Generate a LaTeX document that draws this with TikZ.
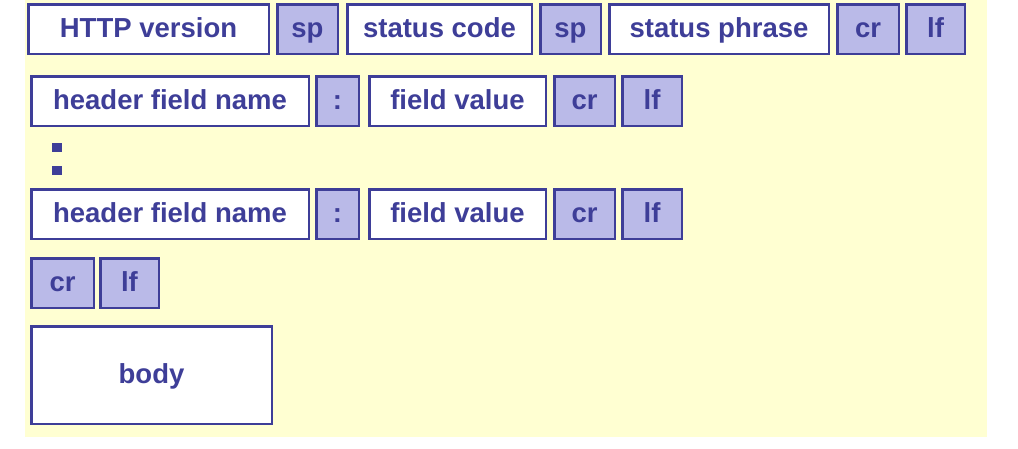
\documentclass[tikz,border=0pt]{standalone}
\usepackage{fontspec}
\setmainfont{Liberation Sans}
\usetikzlibrary{positioning}
\definecolor{pagebg}{RGB}{255,255,210}
\definecolor{boxline}{RGB}{62,62,152}
\definecolor{boxfill}{RGB}{186,186,232}

\begin{document}
\begin{tikzpicture}[x=1pt, y=1pt]
\tikzstyle{fld}=[draw=boxline, line width=2.5pt, fill=white, text=boxline, inner sep=0pt, minimum height=49.5pt, text height=20pt, text depth=2.5pt, font=\fontsize{27.5}{30}\selectfont\bfseries]
\tikzstyle{sym}=[fld, fill=boxfill]
\tikzstyle{dot}=[fill=boxline, inner sep=0pt, minimum width=10pt, minimum height=9pt]

\useasboundingbox (0,0) rectangle (1018,-448);
\fill[pagebg] (25,0) rectangle (987,-437);

% status line
\begin{scope}[every node/.append style={minimum height=46.5pt}]
\node[fld, anchor=north west, minimum width=240.5pt] (ver) at (27,-3) {HTTP version};
\node[sym, right=6pt of ver, minimum width=60.5pt] (spA) {sp};
\node[fld, right=7pt of spA, minimum width=184.5pt] (code) {status code};
\node[sym, right=6pt of code, minimum width=60.5pt] (spB) {sp};
\node[fld, right=6pt of spB, minimum width=219.5pt] (phrase) {status phrase};
\node[sym, right=6pt of phrase, minimum width=61.5pt] (crA) {cr};
\node[sym, right=5pt of crA, minimum width=58.5pt] (lfA) {lf};
\end{scope}

% first header line
\node[fld, anchor=north west, minimum width=277.5pt] (nameA) at (30,-75) {header field name};
\node[sym, right=5pt of nameA, minimum width=42.5pt] (colA) {:};
\node[fld, right=8pt of colA, minimum width=176.5pt] (valA) {field value};
\node[sym, right=6pt of valA, minimum width=60.5pt] (crB) {cr};
\node[sym, right=5pt of crB, minimum width=59.5pt] (lfB) {lf};

% dots
\node[dot] (dotA) at (57,-147.5) {};
\node[dot] (dotB) at (57,-170) {};

% last header line
\node[fld, anchor=north west, minimum width=277.5pt] (nameB) at (30,-188) {header field name};
\node[sym, right=5pt of nameB, minimum width=42.5pt] (colB) {:};
\node[fld, right=8pt of colB, minimum width=176.5pt] (valB) {field value};
\node[sym, right=6pt of valB, minimum width=60.5pt] (crC) {cr};
\node[sym, right=5pt of crC, minimum width=59.5pt] (lfC) {lf};

% blank line
\node[sym, anchor=north west, minimum width=62.5pt] (crD) at (30,-257) {cr};
\node[sym, right=4pt of crD, minimum width=58.5pt] (lfD) {lf};

% body
\node[fld, anchor=north west, minimum width=240.5pt, minimum height=97.5pt] (body) at (30,-325) {body};
\end{tikzpicture}
\end{document}
